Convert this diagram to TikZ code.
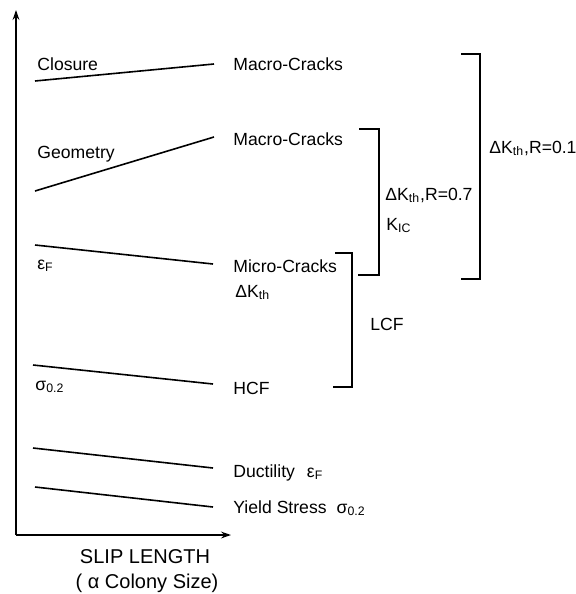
\documentclass[tikz,border=0pt]{standalone}
\usepackage{fontspec}
\setmainfont{Liberation Sans}
\usetikzlibrary{arrows.meta}

\begin{document}
\begin{tikzpicture}[x=0.5pt, y=-0.5pt,
  >={Stealth[length=5pt, width=3.4pt]},
  lbl/.style={anchor=base west, inner sep=0pt, font=\fontsize{8.8}{10}\selectfont},
  axlbl/.style={anchor=base, inner sep=0pt, font=\fontsize{10}{12}\selectfont},
  trend/.style={line width=0.8pt},
  brk/.style={line width=1.2pt},
  axis/.style={->, line width=1.1pt},
]
\useasboundingbox (0,0) rectangle (576,594);

% =============================================
% Axes
% =============================================
\coordinate (origin) at (16,535);
\coordinate (ytop) at (16,10);
\coordinate (xend) at (231,535);
\draw[axis] (origin) -- (ytop);
\draw[axis] (origin) -- (xend);

\node[axlbl] (slip) at (145,563) {SLIP LENGTH};
\node[axlbl] (colony) at (147,588) {( α Colony Size)};

% =============================================
% Trend lines (left end -> right end)
% =============================================
\coordinate (c1) at (35,81);   \coordinate (c2) at (214,64);
\coordinate (g1) at (35,191);  \coordinate (g2) at (214,137);
\coordinate (e1) at (35,245);  \coordinate (e2) at (213,264);
\coordinate (s1) at (33,365);  \coordinate (s2) at (213,384);
\coordinate (d1) at (33,448);  \coordinate (d2) at (213,468);
\coordinate (y1) at (35,487);  \coordinate (y2) at (213,507);

\draw[trend] (c1) -- (c2);
\draw[trend] (g1) -- (g2);
\draw[trend] (e1) -- (e2);
\draw[trend] (s1) -- (s2);
\draw[trend] (d1) -- (d2);
\draw[trend] (y1) -- (y2);

% Left labels
\node[lbl] (closure) at (37,70) {Closure};
\node[lbl] (geometry) at (37,158) {Geometry};
\node[lbl] (epsl) at (37,269) {ε\textsubscript{F}};
\node[lbl] (sigl) at (35,390) {σ\textsubscript{0.2}};

% Right labels
\node[lbl] (macro1) at (233,70) {Macro-Cracks};
\node[lbl] (macro2) at (233,145) {Macro-Cracks};
\node[lbl] (micro) at (233,272) {Micro-Cracks};
\node[lbl] (dkth) at (235,297) {ΔK\textsubscript{th}};
\node[lbl] (hcf) at (233,394) {HCF};
\node[lbl] (duct) at (233,477) {Ductility\hspace{6pt}ε\textsubscript{F}};
\node[lbl] (yield) at (233,513) {Yield Stress\hspace{5pt}σ\textsubscript{0.2}};

% =============================================
% Brackets
% =============================================
% LCF
\coordinate (lcf-tl) at (335,253); \coordinate (lcf-tr) at (352,253);
\coordinate (lcf-br) at (352,387); \coordinate (lcf-bl) at (333,387);
\draw[brk] (lcf-tl) -- (lcf-tr) -- (lcf-br) -- (lcf-bl);
\node[lbl] (lcf) at (370,330) {LCF};

% R=0.7
\coordinate (r7-tl) at (359,129); \coordinate (r7-tr) at (379,129);
\coordinate (r7-br) at (379,275); \coordinate (r7-bl) at (358,275);
\draw[brk] (r7-tl) -- (r7-tr) -- (r7-br) -- (r7-bl);
\node[lbl] (r7) at (385,200) {ΔK\textsubscript{th},R=0.7};
\node[lbl] (kic) at (386,230) {K\textsubscript{IC}};

% R=0.1
\coordinate (r1-tl) at (461,54); \coordinate (r1-tr) at (480,54);
\coordinate (r1-br) at (480,279); \coordinate (r1-bl) at (461,279);
\draw[brk] (r1-tl) -- (r1-tr) -- (r1-br) -- (r1-bl);
\node[lbl] (r1) at (489,153) {ΔK\textsubscript{th},R=0.1};

\end{tikzpicture}
\end{document}
